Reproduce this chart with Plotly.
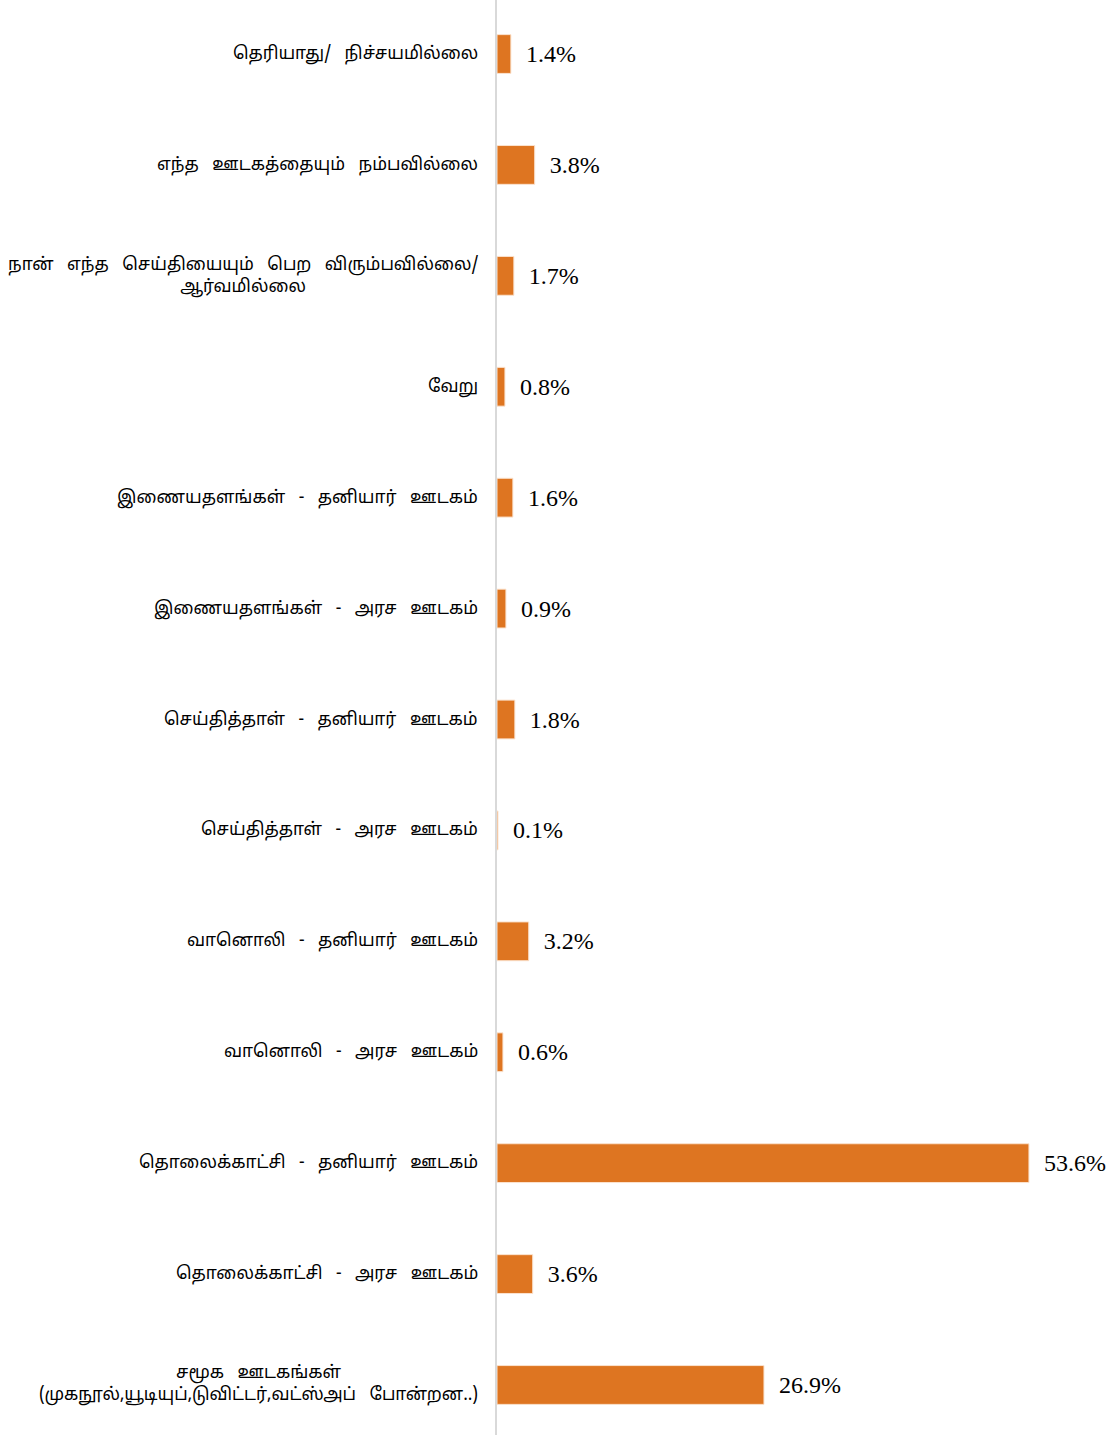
import plotly.graph_objects as go

# categories top to bottom, as in the picture
categories = [
    "தெரியாது/  நிச்சயமில்லை",
    "எந்த  ஊடகத்தையும்  நம்பவில்லை",
    "நான்  எந்த  செய்தியையும்  பெற  விரும்பவில்லை/<br>ஆர்வமில்லை",
    "வேறு",
    "இணையதளங்கள்  -  தனியார்  ஊடகம்",
    "இணையதளங்கள்  -  அரச  ஊடகம்",
    "செய்தித்தாள்  -  தனியார்  ஊடகம்",
    "செய்தித்தாள்  -  அரச  ஊடகம்",
    "வானொலி  -  தனியார்  ஊடகம்",
    "வானொலி  -  அரச  ஊடகம்",
    "தொலைக்காட்சி  -  தனியார்  ஊடகம்",
    "தொலைக்காட்சி  -  அரச  ஊடகம்",
    "சமூக  ஊடகங்கள்<br>(முகநூல்,யூடியுப்,டுவிட்டர்,வட்ஸ்அப்  போன்றன..)",
]
percent = [1.4, 3.8, 1.7, 0.8, 1.6, 0.9, 1.8, 0.1, 3.2, 0.6, 53.6, 3.6, 26.9]

labels = [c.replace("  ", "\u00a0\u00a0\u00a0") for c in categories]
keys = [f"c{i}" for i in range(len(categories))]

fig = go.Figure(go.Bar(
    x=percent,
    y=keys,
    orientation="h",
    marker=dict(color="#DE7521", line=dict(color="#FBE3CF", width=1)),
    texttemplate="\u00a0\u00a0%{x:.1f}%",
    textposition="outside",
    textfont=dict(family="Liberation Serif, Times New Roman, serif", size=24, color="black"),
    cliponaxis=False,
))

# category labels, centred when they wrap
for k, lab in zip(keys, labels):
    fig.add_annotation(
        x=0, xref="paper", y=k, yref="y",
        text=lab, showarrow=False,
        xanchor="right", align="center", xshift=-17,
        font=dict(family="Noto Sans Tamil, Noto Serif Tamil, Latha, sans-serif", size=17.3, color="black"),
    )

fig.update_layout(
    width=1116, height=1435,
    margin=dict(l=497, r=0, t=0, b=0, autoexpand=False),
    plot_bgcolor="white", paper_bgcolor="white",
    bargap=0.65,
    showlegend=False,
)
fig.update_xaxes(range=[0, 62.37], showgrid=False, zeroline=False, showticklabels=False, visible=False)
fig.update_yaxes(
    type="category", categoryorder="array", categoryarray=keys,
    range=[12.451, -0.487],
    showline=True, linecolor="#D9D9D9", linewidth=2,
    ticks="", showticklabels=False, showgrid=False, automargin=False,
)

fig.write_html("out.html", config={"displayModeBar": False},
               post_script="document.body.style.margin='0';")
